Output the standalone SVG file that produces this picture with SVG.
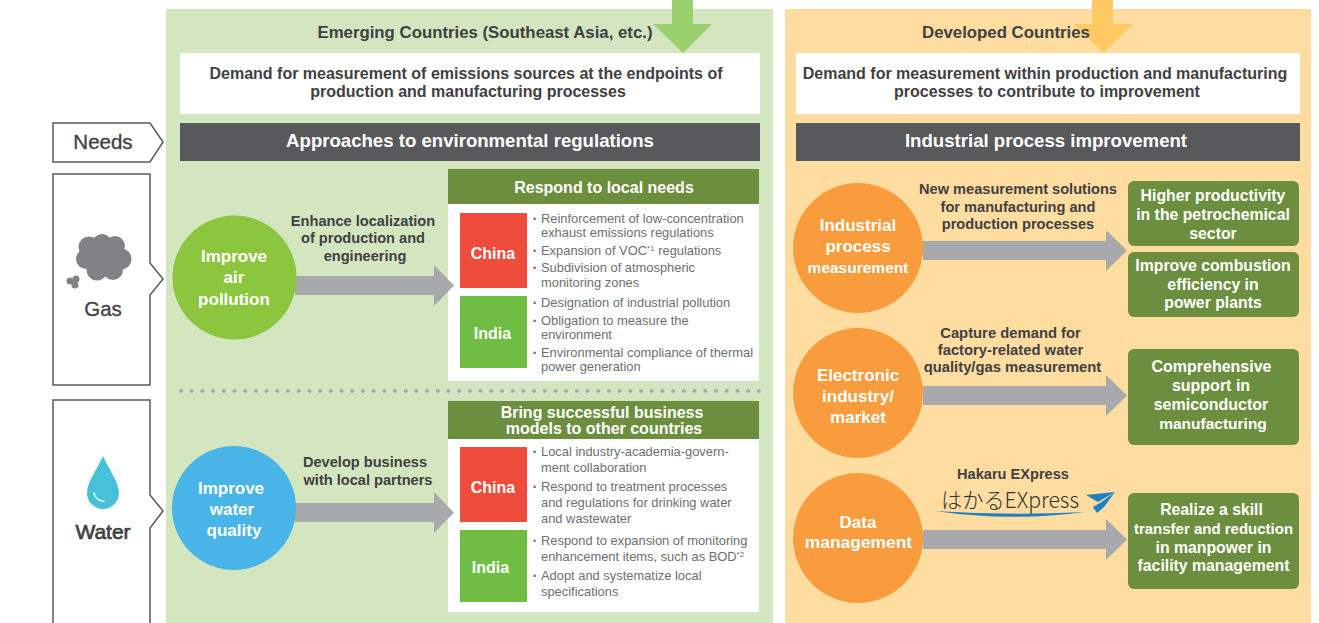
<svg xmlns="http://www.w3.org/2000/svg" width="1319" height="623" viewBox="0 0 1319 623">
<style>
text{font-family:"Liberation Sans",Arial,sans-serif;text-anchor:middle}
.dk{fill:#414042;font-weight:bold}
.t17{font-size:16.800px}
.t16{font-size:16px}
.t14{font-size:14.600px}
.wb{fill:#fff;font-weight:bold}
.band{font-size:18.600px}
.cir{font-size:17px}
.box{font-size:15.800px}
.hd{font-size:16px}
.ctry{font-size:16px}
.b{font-size:12.900px;fill:#6d6e71;text-anchor:start}
.bul{font-size:9px;fill:#6d6e71;text-anchor:start}
.sup{font-size:8px}
.side{fill:#fff;stroke:#58595b;stroke-width:1.500}
.lab{fill:#414042;font-size:20.500px;stroke:#414042;stroke-width:.3px}
.arrow{fill:#a7a9ac}
.white{fill:#fff}
.hdr{fill:#6c8e3f}
.red{fill:#ef4c3b}
.ind{fill:#70bd44}
.dark{fill:#58595b}
.org{fill:#f89c3d}
.gbox{fill:#6c8e3f}
.cloud{fill:#808285}
</style>
<rect id="panel-emerging" x="166" y="9" width="607" height="614" fill="#d3e6bf"/>
<rect id="panel-developed" x="785" y="9" width="526" height="614" fill="#ffdca0"/>

<g id="top-arrows">
<polygon points="672,0 693,0 693,24 712,24 683,53 653,24 672,24" fill="#9bd06f"/>
<polygon points="1092,0 1113,0 1113,24 1133,24 1103,53 1074,24 1092,24" fill="#ffc964"/>
</g>

<g id="title-emerging"><text class="dk t17" x="485" y="38">Emerging Countries (Southeast Asia, etc.)</text></g>
<g id="title-developed"><text class="dk t17" x="1006" y="38">Developed Countries</text></g>

<g id="demand-emerging">
<rect class="white" x="180" y="53" width="580" height="61"/>
<text class="dk t16" x="466" y="79">Demand for measurement of emissions sources at the endpoints of</text>
<text class="dk t16" x="468" y="97">production and manufacturing processes</text>
</g>
<g id="demand-developed">
<rect class="white" x="796" y="53" width="504" height="61"/>
<text class="dk t16" x="1045" y="79">Demand for measurement within production and manufacturing</text>
<text class="dk t16" x="1047" y="97">processes to contribute to improvement</text>
</g>

<g id="needs">
<polygon class="side" points="53,123 150,123 163,142 150,162 53,162"/>
<text class="lab" x="103" y="149">Needs</text>
</g>
<g id="band-regulations">
<rect class="dark" x="180" y="123" width="580" height="38"/>
<text class="wb band" x="470" y="147">Approaches to environmental regulations</text>
</g>
<g id="band-improvement">
<rect class="dark" x="796" y="123" width="504" height="38"/>
<text class="wb band" x="1046" y="147">Industrial process improvement</text>
</g>

<g id="gas">
<polygon class="side" points="53,174 150,174 150,263 163,279 150,295 150,385 53,385"/>
<g class="cloud">
<circle cx="89" cy="247" r="10.500"/><circle cx="102" cy="244" r="10"/><circle cx="115" cy="246" r="10"/>
<circle cx="121" cy="259" r="10.500"/><circle cx="113" cy="270" r="10"/><circle cx="97" cy="270" r="10.500"/>
<circle cx="86" cy="259" r="10"/><circle cx="103" cy="258" r="14"/>
<circle cx="70" cy="281" r="3.500"/><circle cx="76" cy="279" r="3.500"/><circle cx="75" cy="285" r="3.500"/>
</g>
<text class="lab" x="103" y="316">Gas</text>
</g>
<g id="water">
<polygon class="side" points="53,400 150,400 150,495 163,511 150,528 150,630 53,630"/>
<path d="M103 456C98 468 87 482 87 493A16 16 0 0 0 119 493C119 482 108 468 103 456Z" fill="#47c1d9"/>
<path d="M94 493Q95 500 104 501.500" fill="none" stroke="#fff" stroke-width="1.500" stroke-linecap="round"/>
<text class="lab" x="103" y="539" style="font-size:21px;stroke-width:.7px">Water</text>
</g>

<line id="divider" x1="181" y1="391" x2="760" y2="391" stroke="#a9a6b5" stroke-width="4" stroke-linecap="round" stroke-dasharray="0 10.700"/>

<g id="respond-local">
<rect class="white" x="448" y="204" width="311" height="177"/>
<rect class="hdr" x="448" y="169" width="311" height="35"/>
<text class="wb hd" x="604" y="193">Respond to local needs</text>
</g>
<g id="bring-models">
<rect class="white" x="448" y="439" width="311" height="173"/>
<rect class="hdr" x="448" y="401" width="311" height="38"/>
<text class="wb hd" x="602" y="418">Bring successful business</text>
<text class="wb hd" x="604" y="434">models to other countries</text>
</g>

<g id="connectors">
<polygon class="arrow" points="295,276 434,276 434,265 454,285.500 434,306 434,295 295,295"/>
<polygon class="arrow" points="295,503 434,503 434,492 454,512.500 434,533 434,522 295,522"/>
<polygon class="arrow" points="923,241 1106,241 1106,230 1127,250.500 1106,271 1106,260 923,260"/>
<polygon class="arrow" points="923,386 1106,386 1106,375 1127,395.500 1106,416 1106,405 923,405"/>
<polygon class="arrow" points="923,530 1106,530 1106,519 1127,539.500 1106,560 1106,549 923,549"/>
</g>

<g id="improve-air">
<circle cx="234.500" cy="277.500" r="62" fill="#8cc63f"/>
<text class="wb cir" x="234" y="262">Improve</text>
<text class="wb cir" x="234" y="283">air</text>
<text class="wb cir" x="234" y="305">pollution</text>
</g>
<g id="improve-water">
<circle cx="234" cy="508" r="62" fill="#48b4e8"/>
<text class="wb cir" x="231" y="494">Improve</text>
<text class="wb cir" x="232" y="515">water</text>
<text class="wb cir" x="234" y="536">quality</text>
</g>
<g id="industrial">
<circle class="org" cx="858" cy="248" r="65"/>
<text class="wb cir" x="858" y="231">Industrial</text>
<text class="wb cir" x="858" y="252">process</text>
<text class="wb cir" x="858" y="273" style="font-size:15.500px">measurement</text>
</g>
<g id="electronic">
<circle class="org" cx="858" cy="393" r="65"/>
<text class="wb cir" x="858" y="381">Electronic</text>
<text class="wb cir" x="858" y="402">industry/</text>
<text class="wb cir" x="858" y="423">market</text>
</g>
<g id="data-management">
<circle class="org" cx="858" cy="538" r="65"/>
<text class="wb cir" x="858" y="528">Data</text>
<text class="wb cir" x="858.500" y="548" style="font-size:17.400px">management</text>
</g>

<g id="label-localization">
<text class="dk t14" x="363" y="226">Enhance localization</text>
<text class="dk t14" x="363" y="243">of production and</text>
<text class="dk t14" x="365" y="261">engineering</text>
</g>
<g id="label-partners">
<text class="dk t14" x="365" y="467">Develop business</text>
<text class="dk t14" x="368" y="485">with local partners</text>
</g>
<g id="label-solutions">
<text class="dk t14" x="1018" y="194">New measurement solutions</text>
<text class="dk t14" x="1018" y="212">for manufacturing and</text>
<text class="dk t14" x="1018" y="229">production processes</text>
</g>
<g id="label-capture">
<text class="dk t14" x="1010.500" y="337.500" style="font-size:14.800px">Capture demand for</text>
<text class="dk t14" x="1010.500" y="354.500" style="font-size:14.800px">factory-related water</text>
<text class="dk t14" x="1012.500" y="372" style="font-size:14.800px">quality/gas measurement</text>
</g>
<g id="label-hakaru">
<text class="dk t14" x="1013" y="479">Hakaru EXpress</text>
<text x="941" y="507.500" textLength="138" lengthAdjust="spacingAndGlyphs" style="font-family:'Noto Sans CJK JP','Noto Sans',sans-serif;font-size:22px;font-weight:300;fill:#333;text-anchor:start">はかるEXpress</text>
<path d="M935 511Q1010 522 1085 512Q1010 516 935 511Z" fill="#1b80c4"/>
<polygon points="1115,492 1086,495 1098,502" fill="#1b80c4"/>
<polygon points="1115,492 1100,503 1093,507 1097,513 1104,507" fill="#1b80c4"/>
</g>

<g id="respond-china">
<rect class="red" x="460" y="213" width="67" height="75"/>
<text class="wb ctry" x="493" y="259">China</text>
<text class="bul" x="533" y="222">•</text><text class="b" x="541" y="223">Reinforcement of low-concentration</text>
<text class="b" x="541" y="237">exhaust emissions regulations</text>
<text class="bul" x="533" y="254">•</text><text class="b" x="541" y="255">Expansion of VOC<tspan class="sup" dy="-4">*1</tspan><tspan dy="4"> regulations</tspan></text>
<text class="bul" x="533" y="271">•</text><text class="b" x="541" y="272">Subdivision of atmospheric</text>
<text class="b" x="541" y="287">monitoring zones</text>
</g>
<g id="respond-india">
<rect class="ind" x="460" y="296" width="67" height="72"/>
<text class="wb ctry" x="492.500" y="339">India</text>
<text class="bul" x="533" y="306">•</text><text class="b" x="541" y="307">Designation of industrial pollution</text>
<text class="bul" x="533" y="324">•</text><text class="b" x="541" y="325">Obligation to measure the</text>
<text class="b" x="541" y="339">environment</text>
<text class="bul" x="533" y="356">•</text><text class="b" x="541" y="357">Environmental compliance of thermal</text>
<text class="b" x="541" y="371">power generation</text>
</g>
<g id="bring-china">
<rect class="red" x="460" y="447" width="67" height="75"/>
<text class="wb ctry" x="493" y="493">China</text>
<text class="bul" x="533" y="455">•</text><text class="b" x="541" y="456">Local industry-academia-govern-</text>
<text class="b" x="541" y="472">ment collaboration</text>
<text class="bul" x="533" y="490">•</text><text class="b" x="541" y="491">Respond to treatment processes</text>
<text class="b" x="541" y="507">and regulations for drinking water</text>
<text class="b" x="541" y="523">and wastewater</text>
</g>
<g id="bring-india">
<rect class="ind" x="460" y="530" width="67" height="72"/>
<text class="wb ctry" x="490.500" y="573">India</text>
<text class="bul" x="533" y="544">•</text><text class="b" x="541" y="545">Respond to expansion of monitoring</text>
<text class="b" x="541" y="561">enhancement items, such as BOD<tspan class="sup" dy="-4">*2</tspan></text>
<text class="bul" x="533" y="579">•</text><text class="b" x="541" y="580">Adopt and systematize local</text>
<text class="b" x="541" y="596">specifications</text>
</g>

<g id="result-petrochemical">
<rect class="gbox" x="1128" y="181" width="171" height="65" rx="6"/>
<text class="wb box" x="1213" y="201">Higher productivity</text>
<text class="wb box" x="1213" y="220">in the petrochemical</text>
<text class="wb box" x="1213" y="239">sector</text>
</g>
<g id="result-combustion">
<rect class="gbox" x="1128" y="252" width="171" height="65" rx="6"/>
<text class="wb box" x="1213" y="271">Improve combustion</text>
<text class="wb box" x="1213" y="290">efficiency in</text>
<text class="wb box" x="1213" y="308">power plants</text>
</g>
<g id="result-semiconductor">
<rect class="gbox" x="1128" y="349" width="171" height="96" rx="6"/>
<text class="wb box" x="1211.500" y="372" style="font-size:16px">Comprehensive</text>
<text class="wb box" x="1211" y="391" style="font-size:16px">support in</text>
<text class="wb box" x="1211" y="410" style="font-size:16px">semiconductor</text>
<text class="wb box" x="1213" y="429" style="font-size:15.500px">manufacturing</text>
</g>
<g id="result-skill">
<rect class="gbox" x="1128" y="493" width="171" height="96" rx="6"/>
<text class="wb box" x="1211.500" y="515">Realize a skill</text>
<text class="wb box" x="1213.500" y="534" style="font-size:15px">transfer and reduction</text>
<text class="wb box" x="1213.500" y="553">in manpower in</text>
<text class="wb box" x="1213.500" y="571">facility management</text>
</g>
</svg>
